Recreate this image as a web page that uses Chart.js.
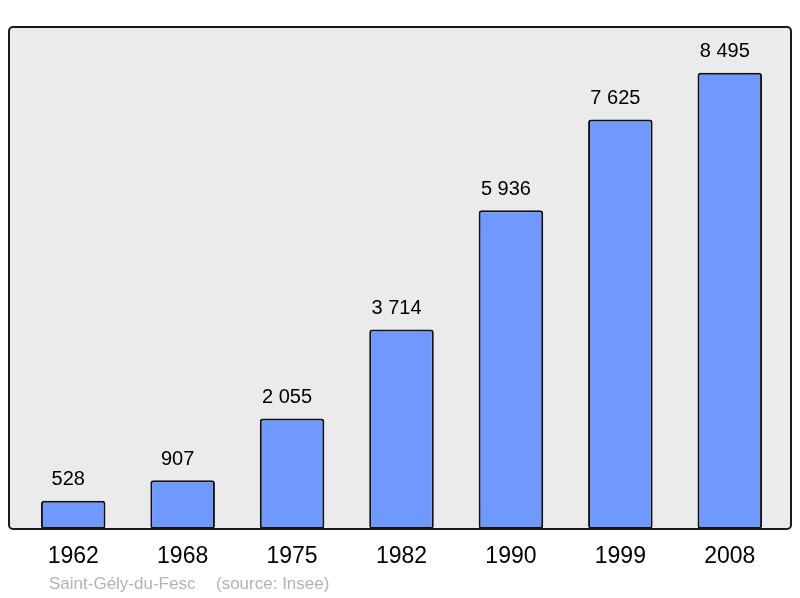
<!DOCTYPE html>
<html>
<head>
<meta charset="utf-8">
<script src="https://cdn.jsdelivr.net/npm/chart.js@4/dist/chart.umd.min.js"></script>
<style>
html,body{margin:0;padding:0;background:#fff;}
#wrap{width:800px;height:598px;position:relative;}
</style>
</head>
<body>
<div id="wrap"><canvas id="c" width="800" height="598"></canvas></div>
<script>
const years = ["1962", "1968", "1975", "1982", "1990", "1999", "2008"];
const population = [528, 907, 2055, 3714, 5936, 7625, 8495];
const valueLabels = ["528", "907", "2 055", "3 714", "5 936", "7 625", "8 495"];
const footerName = "Saint-Gély-du-Fesc";
const footerSource = "(source: Insee)";

const FONT = "'Liberation Sans', Arial, sans-serif";

const framePlugin = {
  id: 'frame',
  beforeDatasetsDraw(chart) {
    const {ctx, chartArea} = chart;
    const x0 = chartArea.left - 9.5, x1 = chartArea.right + 6.5;
    const y0 = chartArea.top, y1 = chartArea.bottom;
    ctx.save();
    ctx.beginPath();
    ctx.roundRect(x0, y0, x1 - x0, y1 - y0, 4);
    ctx.fillStyle = '#ebebeb';
    ctx.fill();
    ctx.restore();
  },
  afterDatasetsDraw(chart) {
    const {ctx, chartArea} = chart;
    const x0 = chartArea.left - 9.5, x1 = chartArea.right + 6.5;
    const y0 = chartArea.top, y1 = chartArea.bottom;
    ctx.save();
    ctx.beginPath();
    ctx.roundRect(x0, y0, x1 - x0, y1 - y0, 4);
    ctx.lineWidth = 2;
    ctx.strokeStyle = '#1a1a1a';
    ctx.stroke();
    // value labels
    const meta = chart.getDatasetMeta(0);
    ctx.fillStyle = '#000';
    ctx.font = '20px ' + FONT;
    ctx.textAlign = 'center';
    ctx.textBaseline = 'middle';
    meta.data.forEach((bar, i) => {
      ctx.fillText(valueLabels[i], bar.x - 5, bar.y - 21);
    });
    // footer
    ctx.fillStyle = '#b3b3b3';
    ctx.font = '17px ' + FONT;
    ctx.textAlign = 'left';
    ctx.fillText(footerName, 49, 584);
    ctx.fillText(footerSource, 216, 584);
    ctx.restore();
  }
};

new Chart(document.getElementById('c'), {
  type: 'bar',
  data: {
    labels: years,
    datasets: [{
      data: population,
      backgroundColor: '#7099ff',
      borderColor: '#111',
      borderWidth: 2,
      borderRadius: 3,
      borderSkipped: false,
      barPercentage: 0.59,
      categoryPercentage: 1
    }]
  },
  options: {
    responsive: false,
    animation: false,
    events: [],
    layout: { padding: { left: 18.5, right: 15.5, top: 27, bottom: 13.4 } },
    plugins: { legend: { display: false }, tooltip: { enabled: false } },
    scales: {
      x: {
        grid: { display: false, drawTicks: false },
        border: { display: false },
        ticks: { color: '#000', font: { family: FONT, size: 23 }, padding: 14 }
      },
      y: {
        display: false,
        min: 0,
        max: 9345
      }
    }
  },
  plugins: [framePlugin]
});
</script>
</body>
</html>
